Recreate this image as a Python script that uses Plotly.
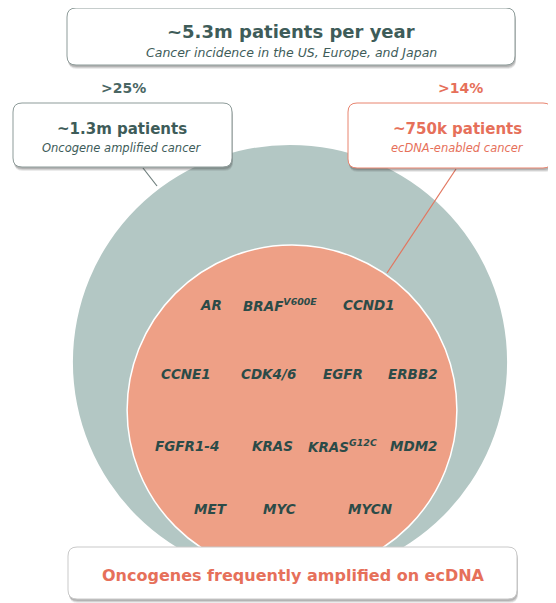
import math
import plotly.graph_objects as go

# ---------------- data ----------------
total_label = "~5.3m patients per year"
total_sub = "Cancer incidence in the US, Europe, and Japan"
amplified_millions = 1.3      # oncogene amplified cancer
ecdna_millions = 0.75         # ecDNA-enabled cancer
amplified_pct = ">25%"
ecdna_pct = ">14%"
amplified_label = "~1.3m patients"
amplified_sub = "Oncogene amplified cancer"
ecdna_label = "~750k patients"
ecdna_sub = "ecDNA-enabled cancer"
footer_label = "Oncogenes frequently amplified on ecDNA"

gene_row1 = ["AR", "BRAF<sup>V600E</sup>", "CCND1"]
gene_row2 = ["CCNE1", "CDK4/6", "EGFR", "ERBB2"]
gene_row3 = ["FGFR1-4", "KRAS", "KRAS<sup>G12C</sup>", "MDM2"]
gene_row4 = ["MET", "MYC", "MYCN"]

# ---------------- layout constants ----------------
W, H = 556, 603
PAD = 8  # page body margin
TEAL = "#b3c7c4"
SALMON = "#eea086"
DARK = "#2b4b48"
GREY_TXT = "#4a6663"
RED_TXT = "#e6705a"
FONT = "DejaVu Sans"

scale = 190.4  # px per sqrt(million patients)
r_big = scale * math.sqrt(amplified_millions)
r_small = scale * math.sqrt(ecdna_millions)
big_c = (290, 362)
small_c = (292, 410)

row_y = [305, 374, 446, 509]
row_x = [
    [211, 280, 369],
    [186, 268, 343, 413],
    [187, 272, 342, 413],
    [211, 279, 370],
]
gene_rows = [gene_row1, gene_row2, gene_row3, gene_row4]


def rrect(x0, y0, x1, y1, r):
    return (f"M {x0+r},{y0} L {x1-r},{y0} Q {x1},{y0} {x1},{y0+r} "
            f"L {x1},{y1-r} Q {x1},{y1} {x1-r},{y1} L {x0+r},{y1} "
            f"Q {x0},{y1} {x0},{y1-r} L {x0},{y0+r} Q {x0},{y0} {x0+r},{y0} Z")


shapes = []


def box(x0, y0, x1, y1, border):
    for dx, dy, op in [(1, 4, 0.10), (1, 3, 0.15), (0.5, 2, 0.2)]:
        shapes.append(dict(type="path", path=rrect(x0 + dx, y0 + dy, x1 + dx, y1 + dy, 9),
                           fillcolor=f"rgba(60,60,60,{op})", line=dict(width=0)))
    shapes.append(dict(type="path", path=rrect(x0, y0, x1, y1, 9),
                       fillcolor="white", line=dict(color=border, width=1)))


# circles
shapes.append(dict(type="circle", x0=big_c[0] - r_big, x1=big_c[0] + r_big,
                   y0=big_c[1] - r_big, y1=big_c[1] + r_big,
                   fillcolor=TEAL, line=dict(width=0)))
shapes.append(dict(type="circle", x0=small_c[0] - r_small, x1=small_c[0] + r_small,
                   y0=small_c[1] - r_small, y1=small_c[1] + r_small,
                   fillcolor=SALMON, line=dict(color="white", width=1.5)))

# connectors
shapes.append(dict(type="line", x0=143, y0=168, x1=157, y1=186,
                   line=dict(color="#6f7f7d", width=1.2)))
shapes.append(dict(type="line", x0=456, y0=169, x1=387, y1=273,
                   line=dict(color="#e2765f", width=1.2)))

# boxes
box(67, 8, 515, 65, "#8d9b99")
box(13, 103, 232, 167, "#8d9b99")
box(348, 103, 552, 168, "#e8846f")
box(68, 547, 517, 599, "#c9c9c9")

annotations = []


def txt(x, y, s, size, color, bold=False, italic=False):
    annotations.append(dict(x=x, y=y, text=s, showarrow=False, xanchor="center",
                            yanchor="middle",
                            font=dict(family=FONT, size=size, color=color,
                                      weight="bold" if bold else "normal",
                                      style="italic" if italic else "normal")))


txt(291, 31, total_label, 18, "#3e5c59", bold=True)
txt(291, 52, total_sub, 12.5, "#3e5c59", italic=True)
txt(123, 88, amplified_pct, 14, GREY_TXT, bold=True)
txt(460, 88, ecdna_pct, 14, RED_TXT, bold=True)
txt(122, 129, amplified_label, 15, "#3e5c59", bold=True)
txt(122, 148, amplified_sub, 11.5, "#3e5c59", italic=True)
txt(457, 129, ecdna_label, 15, RED_TXT, bold=True)
txt(457, 148, ecdna_sub, 11.5, RED_TXT, italic=True)
txt(293, 575, footer_label, 16, RED_TXT, bold=True)

for row, ys, xs in zip(gene_rows, row_y, row_x):
    for g, x in zip(row, xs):
        txt(x, ys, g, 13.5, DARK, bold=True, italic=True)

fig = go.Figure()
fig.update_layout(
    width=W - PAD, height=H - PAD, autosize=False,
    margin=dict(l=0, r=0, t=0, b=0),
    paper_bgcolor="white", plot_bgcolor="white",
    xaxis=dict(range=[PAD, W], visible=False, fixedrange=True),
    yaxis=dict(range=[H, PAD], visible=False, fixedrange=True),
    shapes=shapes, annotations=annotations, showlegend=False,
)
fig.write_html("out.html", config={"displayModeBar": False})
